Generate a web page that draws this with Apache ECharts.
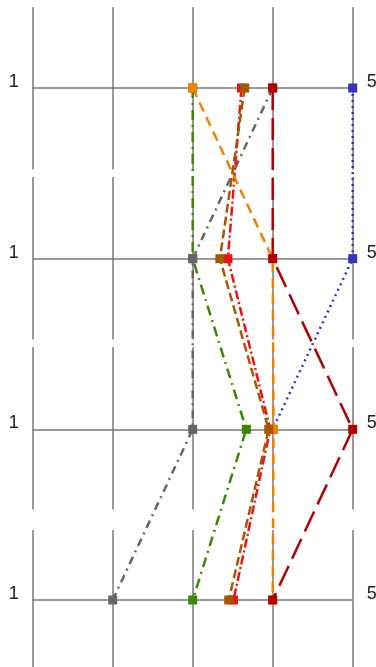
<!DOCTYPE html>
<html>
<head>
<meta charset="utf-8">
<script src="https://cdn.jsdelivr.net/npm/echarts@6/dist/echarts.min.js"></script>
<style>
html,body{margin:0;padding:0;background:#fff;}
#chart{width:376px;height:667px;}
</style>
</head>
<body>
<div id="chart"></div>
<script>
// Axes (rows, top to bottom)
const categories = ['Axis 1', 'Axis 2', 'Axis 3', 'Axis 4'];
const axisMinLabel = '1';
const axisMaxLabel = '5';
// Series values per axis
const blueValues    = [5, 5, 4, null];
const greenValues   = [3, 3, 3.67, 3];
const grayValues    = [4, 3, 3, 2];
const redValues     = [3.61, 3.44, 3.97, 3.51];
const orangeValues  = [3, 4, 4.01, 4];
const brownValues   = [3.65, 3.34, 3.95, 3.45];
const darkRedValues = [4, 4, 5, 4];

const seriesDefs = [
  {name: 'Blue', values: blueValues, color: '#3333bb', dash: [2, 4]},
  {name: 'Green', values: greenValues, color: '#3a8800', dash: [10, 5, 2, 5]},
  {name: 'Gray', values: grayValues, color: '#666666', dash: [8, 5, 2, 5]},
  {name: 'Red', values: redValues, color: '#ee1111', dash: [9, 3, 2, 3]},
  {name: 'Orange', values: orangeValues, color: '#f08000', dash: [10, 6]},
  {name: 'Brown', values: brownValues, color: '#a65800', dash: [9, 4]},
  {name: 'DarkRed', values: darkRedValues, color: '#b00000', dash: [22, 8]}
];

const L = 32.7, R = 23.3;
const bgTops = [7, 177, 347, 530];

const grids = [{left: L, right: R, top: 88, height: 512, outerBoundsMode: 'none', containLabel: false}];
const xAxes = [{
  type: 'value', min: 1, max: 5, interval: 1, gridIndex: 0,
  axisLine: {show: false}, axisTick: {show: false}, axisLabel: {show: false},
  splitLine: {show: false}
}];
const labelFont = 'Liberation Sans, Arial, sans-serif';
const yAxes = [
  {
    type: 'category', data: categories, inverse: true, boundaryGap: false, gridIndex: 0,
    axisLine: {show: false}, axisTick: {show: false},
    splitLine: {show: true, lineStyle: {color: '#777', width: 1.5}},
    axisLabel: {formatter: () => axisMinLabel, fontSize: 18, color: '#222', margin: 14,
      fontFamily: labelFont, verticalAlign: 'bottom', lineHeight: 18, padding: [0,0,-3,0]}
  },
  {
    type: 'category', data: categories, inverse: true, boundaryGap: false, gridIndex: 0, position: 'right',
    axisLine: {show: false}, axisTick: {show: false}, splitLine: {show: false},
    axisLabel: {formatter: () => axisMaxLabel, fontSize: 18, color: '#222', margin: 14,
      fontFamily: labelFont, verticalAlign: 'bottom', lineHeight: 18, padding: [0,0,-3,0]}
  }
];
bgTops.forEach((t, i) => {
  grids.push({left: L, right: R, top: t, height: 162.5, outerBoundsMode: 'none', containLabel: false});
  xAxes.push({
    type: 'value', min: 1, max: 5, interval: 1, gridIndex: i + 1,
    axisLine: {show: false}, axisTick: {show: false}, axisLabel: {show: false},
    splitLine: {show: true, lineStyle: {color: '#777', width: 1.5}}
  });
  yAxes.push({type: 'value', gridIndex: i + 1, show: false, splitLine: {show: false}});
});

const series = seriesDefs.map((s, k) => ({
  name: s.name,
  type: 'line',
  xAxisIndex: 0, yAxisIndex: 0,
  data: s.values.map((v, i) => v == null ? [null, categories[i]] : [v, categories[i]]),
  connectNulls: false,
  symbol: 'rect',
  symbolSize: 9,
  showSymbol: true,
  itemStyle: {color: s.color},
  lineStyle: {color: s.color, width: 2.5, type: s.dash},
  z: 3 + k,
  animation: false
}));

const chart = echarts.init(document.getElementById('chart'), null, {renderer: 'canvas'});
chart.setOption({
  animation: false,
  grid: grids,
  xAxis: xAxes,
  yAxis: yAxes,
  series: series
});
</script>
</body>
</html>
